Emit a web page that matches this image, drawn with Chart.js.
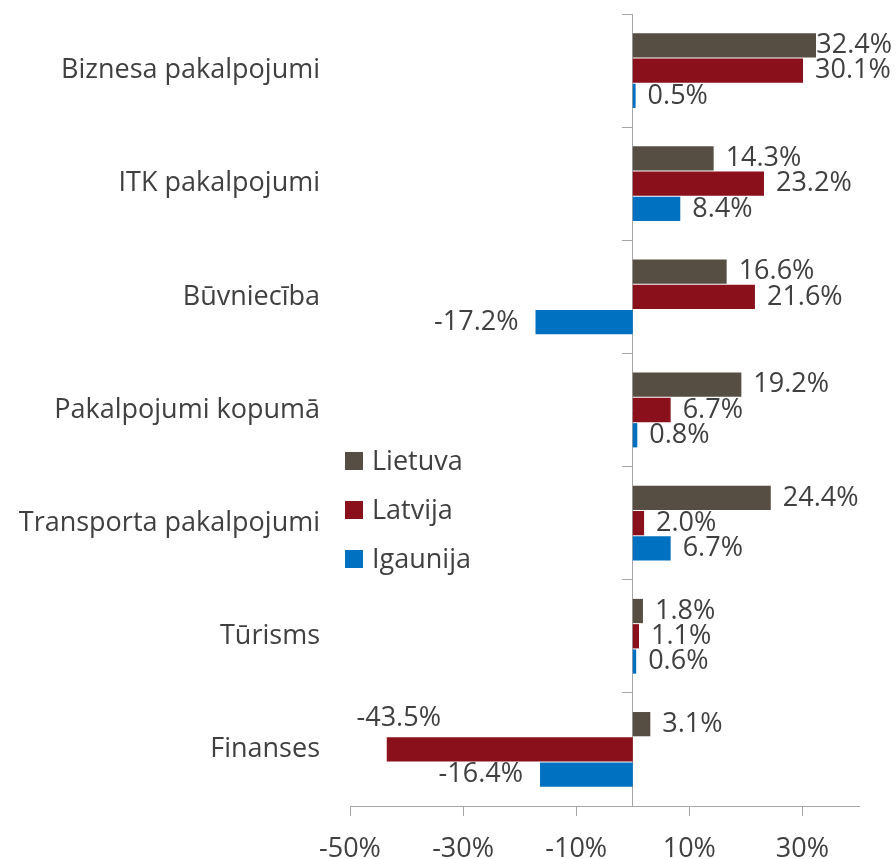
<!DOCTYPE html>
<html>
<head>
<meta charset="utf-8">
<script src="https://cdn.jsdelivr.net/npm/chart.js@4/dist/chart.umd.min.js"></script>
<style>
    html, body { margin: 0; padding: 0; background: #ffffff; }
    #wrap { width: 896px; height: 859px; }
</style>
</head>
<body>
<div id="wrap"><canvas id="export-chart"></canvas></div>
<script>
// カテゴリ
const categories = [
    'Biznesa pakalpojumi',
    'ITK pakalpojumi',
    'Būvniecība',
    'Pakalpojumi kopumā',
    'Transporta pakalpojumi',
    'Tūrisms',
    'Finanses'
];

// 系列データ (%)
const lietuva = [32.4, 14.3, 16.6, 19.2, 24.4, 1.8, 3.1];
const latvija = [30.1, 23.2, 21.6, 6.7, 2.0, 1.1, -43.5];
const igaunija = [0.5, 8.4, -17.2, 0.8, 6.7, 0.6, -16.4];

// X軸の目盛り
const xTicks = [-50, -30, -10, 10, 30];

// 色設定
const colors = {
    'Lietuva': '#564E43',
    'Latvija': '#8A111C',
    'Igaunija': '#0070C0'
};
const axisColor = '#A6A6A6';
const textColor = '#404040';
const fontFamily = '"Open Sans", sans-serif';

// データラベル描画プラグイン
const valueLabels = {
    id: 'valueLabels',
    afterDatasetsDraw(chart) {
        const ctx = chart.ctx;
        ctx.save();
        ctx.font = '27px ' + fontFamily;
        ctx.fillStyle = textColor;
        ctx.textBaseline = 'middle';
        chart.data.datasets.forEach((ds, i) => {
            chart.getDatasetMeta(i).data.forEach((bar, j) => {
                const v = ds.data[j];
                const text = v.toFixed(1) + '%';
                const w = ctx.measureText(text).width;
                if (v >= 0) {
                    let x = bar.x + 12;
                    if (x + w > chart.width - 4) x = chart.width - 4 - w;
                    ctx.textAlign = 'left';
                    ctx.fillText(text, x, bar.y);
                } else if (bar.x - 17 - w < chart.chartArea.left) {
                    // 入りきらない場合は棒の上に表示
                    ctx.textAlign = 'center';
                    ctx.fillText(text, bar.x + 12, bar.y - bar.height * 1.3);
                } else {
                    ctx.textAlign = 'right';
                    ctx.fillText(text, bar.x - 17, bar.y);
                }
            });
        });
        ctx.restore();
    }
};

// 凡例描画プラグイン (グラフ内に配置)
const innerLegend = {
    id: 'innerLegend',
    afterDraw(chart) {
        const ctx = chart.ctx;
        const area = chart.chartArea;
        const left = area.left - 5;
        const top = area.top + 438;
        ctx.save();
        ctx.font = '27px ' + fontFamily;
        ctx.textBaseline = 'middle';
        ctx.textAlign = 'left';
        chart.data.datasets.forEach((ds, i) => {
            const y = top + i * 49;
            ctx.fillStyle = ds.backgroundColor;
            ctx.fillRect(left, y, 18, 18);
            ctx.fillStyle = textColor;
            ctx.fillText(ds.label, left + 27, y + 10);
        });
        ctx.restore();
    }
};

const ctx = document.getElementById('export-chart').getContext('2d');

const exportChart = new Chart(ctx, {
    type: 'bar',
    data: {
        labels: categories,
        datasets: [
            { label: 'Lietuva', data: lietuva, backgroundColor: colors['Lietuva'] },
            { label: 'Latvija', data: latvija, backgroundColor: colors['Latvija'] },
            { label: 'Igaunija', data: igaunija, backgroundColor: colors['Igaunija'] }
        ]
    },
    options: {
        indexAxis: 'y',
        responsive: true,
        maintainAspectRatio: false,
        animation: false,
        categoryPercentage: 0.67,
        barPercentage: 0.96,
        layout: {
            padding: { top: 14, right: 37, bottom: 0, left: 0 }
        },
        plugins: {
            legend: { display: false },
            tooltip: { enabled: false },
            title: { display: false }
        },
        scales: {
            x: {
                min: -50,
                max: 40,
                afterBuildTicks: (scale) => {
                    scale.ticks = xTicks.map(v => ({ value: v }));
                },
                afterFit: (scale) => {
                    scale.height = 53;
                },
                grid: {
                    drawOnChartArea: false,
                    drawTicks: true,
                    tickLength: 10,
                    color: axisColor
                },
                border: { display: true, color: axisColor },
                ticks: {
                    padding: 17,
                    color: textColor,
                    font: { family: fontFamily, size: 27 },
                    callback: (v) => v + '%'
                }
            },
            y: {
                afterFit: (scale) => {
                    scale.width = 350;
                    // ラベル分の上下余白は不要
                    scale.paddingTop = 0;
                    scale.paddingBottom = 0;
                },
                grid: { display: false },
                border: { display: false },
                ticks: {
                    padding: 22,
                    color: textColor,
                    font: { family: fontFamily, size: 27 }
                }
            },
            // ゼロ位置の縦軸 (区切りの目盛り付き)
            y2: {
                type: 'category',
                axis: 'y',
                position: { x: 0 },
                offset: true,
                grid: {
                    offset: true,
                    drawOnChartArea: false,
                    drawTicks: true,
                    tickLength: 10,
                    color: axisColor
                },
                border: { display: true, color: axisColor },
                ticks: { display: false }
            }
        }
    },
    plugins: [valueLabels, innerLegend]
});
</script>
</body>
</html>
